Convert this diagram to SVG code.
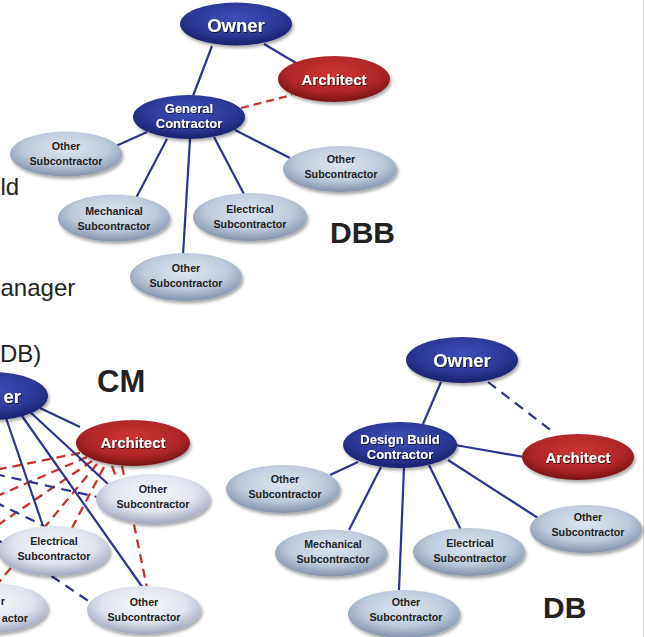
<svg xmlns="http://www.w3.org/2000/svg" width="645" height="637" viewBox="0 0 645 637">
<defs>
<radialGradient id="gBlue" cx="50%" cy="38%" r="62%">
<stop offset="0%" stop-color="#3d4fb8"/><stop offset="65%" stop-color="#2b3896"/><stop offset="100%" stop-color="#17206a"/>
</radialGradient>
<radialGradient id="gRed" cx="50%" cy="38%" r="62%">
<stop offset="0%" stop-color="#cc3530"/><stop offset="65%" stop-color="#b02729"/><stop offset="100%" stop-color="#761313"/>
</radialGradient>
<radialGradient id="gSub" cx="50%" cy="38%" r="62%">
<stop offset="0%" stop-color="#dde5f0"/><stop offset="60%" stop-color="#bfcbdd"/><stop offset="100%" stop-color="#8192ad"/>
</radialGradient>
<radialGradient id="gLight" cx="50%" cy="38%" r="62%">
<stop offset="0%" stop-color="#f6f7fb"/><stop offset="60%" stop-color="#e1e4ef"/><stop offset="100%" stop-color="#a0a6bf"/>
</radialGradient>
<filter id="sh" x="-20%" y="-20%" width="140%" height="150%">
<feDropShadow dx="1.5" dy="2.5" stdDeviation="1.5" flood-color="#000" flood-opacity="0.35"/>
</filter>
<filter id="ts" x="-10%" y="-30%" width="120%" height="160%">
<feDropShadow dx="0.8" dy="0.9" stdDeviation="0.6" flood-color="#000" flood-opacity="0.75"/>
</filter>
</defs>
<style>
.ln{stroke:#2b3490;stroke-width:2.2;fill:none}
.dr{stroke:#c8322b;stroke-width:2.3;fill:none;stroke-dasharray:9 6}
.db{stroke:#2b3490;stroke-width:2.2;fill:none;stroke-dasharray:10 7}
.nb{fill:url(#gBlue);filter:url(#sh)}
.nr{fill:url(#gRed);filter:url(#sh)}
.ns{fill:url(#gSub);filter:url(#sh)}
.nl{fill:url(#gLight);filter:url(#sh)}
text{font-family:"Liberation Sans",Arial,sans-serif}
.tw{font-weight:bold;fill:#fff;text-anchor:middle;filter:url(#ts)}
.o{font-size:18.5px}
.a{font-size:15px}
.c{font-size:13px}
.td{font-weight:bold;fill:#1e1e1e;font-size:10.7px;text-anchor:middle}
.big{font-weight:bold;fill:#222;font-size:30px}
.side{font-size:24px;fill:#222}
</style>
<rect width="645" height="637" fill="#fff"/>
<line x1="643.5" y1="0" x2="643.5" y2="637" stroke="#dadada" stroke-width="1"/>

<g id="connectors">
<!-- DBB -->
<line class="ln" x1="212" y1="46" x2="193" y2="96"/>
<line class="ln" x1="264" y1="44" x2="296" y2="63"/>
<line class="dr" x1="241" y1="108" x2="292" y2="95" style="stroke-dasharray:8 5"/>
<line class="ln" x1="147" y1="132" x2="116" y2="146"/>
<line class="ln" x1="167" y1="139" x2="136" y2="198"/>
<line class="ln" x1="190" y1="139" x2="183" y2="255"/>
<line class="ln" x1="214" y1="137" x2="245" y2="196"/>
<line class="ln" x1="235" y1="130" x2="290" y2="158"/>
<!-- CM -->
<line class="dr" x1="80" y1="453" x2="-5" y2="470"/>
<line class="dr" x1="87" y1="457" x2="-5" y2="497"/>
<line class="dr" x1="92" y1="461" x2="-5" y2="527"/>
<line class="dr" x1="97" y1="464" x2="-5" y2="587"/>
<line class="dr" x1="104" y1="467" x2="72" y2="528"/>
<line class="dr" x1="112" y1="466" x2="118" y2="482"/>
<line class="dr" x1="122" y1="466" x2="147" y2="588"/>
<line class="db" x1="-5" y1="474" x2="97" y2="497"/>
<line class="db" x1="-5" y1="502" x2="44" y2="526"/>
<line class="db" x1="-5" y1="538" x2="90" y2="602"/>
<line class="ln" x1="40" y1="408" x2="80" y2="427"/>
<line class="ln" x1="30" y1="412" x2="108" y2="484"/>
<line class="ln" x1="22" y1="416" x2="143" y2="588"/>
<line class="ln" x1="6" y1="418" x2="43" y2="526"/>
<!-- DB -->
<line class="ln" x1="441" y1="382" x2="423" y2="424"/>
<line class="db" x1="488" y1="382" x2="553" y2="432"/>
<line class="ln" x1="455" y1="445" x2="524" y2="457"/>
<line class="ln" x1="358" y1="462" x2="330" y2="475"/>
<line class="ln" x1="381" y1="467" x2="349" y2="530"/>
<line class="ln" x1="404" y1="467" x2="399" y2="590"/>
<line class="ln" x1="429" y1="465" x2="461" y2="530"/>
<line class="ln" x1="448" y1="460" x2="538" y2="518"/>
</g>

<!-- DBB nodes -->
<g id="dbb-owner"><ellipse class="nb" cx="236" cy="24" rx="56" ry="21.5"/><text class="tw o" x="236" y="32">Owner</text></g>
<g id="dbb-architect"><ellipse class="nr" cx="334" cy="79" rx="56" ry="23"/><text class="tw a" x="334" y="85">Architect</text></g>
<g id="dbb-gc"><ellipse class="nb" cx="189" cy="117" rx="56" ry="22"/><text class="tw c" x="189" y="113">General</text><text class="tw c" x="189" y="128">Contractor</text></g>
<g id="dbb-other1"><ellipse class="ns" cx="66" cy="154" rx="56" ry="22.5"/><text class="td" x="66" y="150">Other</text><text class="td" x="66" y="165">Subcontractor</text></g>
<g id="dbb-other2"><ellipse class="ns" cx="340" cy="169" rx="57" ry="23"/><text class="td" x="341" y="163">Other</text><text class="td" x="341" y="178">Subcontractor</text></g>
<g id="dbb-mech"><ellipse class="ns" cx="114" cy="218" rx="56" ry="23.5"/><text class="td" x="114" y="215">Mechanical</text><text class="td" x="114" y="230">Subcontractor</text></g>
<g id="dbb-elec"><ellipse class="ns" cx="250" cy="217" rx="57" ry="24"/><text class="td" x="250" y="213">Electrical</text><text class="td" x="250" y="228">Subcontractor</text></g>
<g id="dbb-other3"><ellipse class="ns" cx="186" cy="277" rx="56" ry="24"/><text class="td" x="186" y="272">Other</text><text class="td" x="186" y="287">Subcontractor</text></g>
<text class="big" x="330" y="243">DBB</text>

<!-- side text fragments -->
<text class="side" x="0.5" y="195">ld</text>
<text class="side" x="0.5" y="296">anager</text>
<text class="side" x="0" y="362">DB)</text>

<!-- CM nodes -->
<g id="cm-owner"><ellipse class="nb" cx="-8" cy="396" rx="56" ry="24"/><text class="tw o" x="21" y="403" style="text-anchor:end">er</text></g>
<g id="cm-architect"><ellipse class="nr" cx="133" cy="443" rx="57" ry="23"/><text class="tw a" x="133" y="448">Architect</text></g>
<g id="cm-other1"><ellipse class="nl" cx="153" cy="499" rx="57" ry="25"/><text class="td" x="153" y="493">Other</text><text class="td" x="153" y="508">Subcontractor</text></g>
<g id="cm-elec"><ellipse class="nl" cx="54" cy="551" rx="56" ry="25"/><text class="td" x="54" y="545">Electrical</text><text class="td" x="54" y="560">Subcontractor</text></g>
<g id="cm-other2"><ellipse class="nl" cx="144" cy="610" rx="57" ry="24"/><text class="td" x="144" y="606">Other</text><text class="td" x="144" y="621">Subcontractor</text></g>
<g id="cm-other3"><ellipse class="nl" cx="-8" cy="608" rx="56" ry="25"/><text class="td" x="5" y="605" style="text-anchor:end">r</text><text class="td" x="28" y="622" style="text-anchor:end">actor</text></g>
<text class="big" x="97" y="392" style="font-size:31px">CM</text>

<!-- DB nodes -->
<g id="db-owner"><ellipse class="nb" cx="462" cy="360" rx="56" ry="23"/><text class="tw o" x="462" y="367">Owner</text></g>
<g id="db-dbc"><ellipse class="nb" cx="400" cy="445" rx="57" ry="23"/><text class="tw c" x="400" y="444">Design Build</text><text class="tw c" x="400" y="459">Contractor</text></g>
<g id="db-architect"><ellipse class="nr" cx="578" cy="457" rx="56" ry="23"/><text class="tw a" x="578" y="463">Architect</text></g>
<g id="db-other1"><ellipse class="ns" cx="283" cy="489" rx="57" ry="24"/><text class="td" x="285" y="483">Other</text><text class="td" x="285" y="498">Subcontractor</text></g>
<g id="db-mech"><ellipse class="ns" cx="331" cy="553" rx="56" ry="23.5"/><text class="td" x="333" y="548">Mechanical</text><text class="td" x="333" y="563">Subcontractor</text></g>
<g id="db-elec"><ellipse class="ns" cx="469" cy="552" rx="56" ry="24"/><text class="td" x="470" y="547">Electrical</text><text class="td" x="470" y="562">Subcontractor</text></g>
<g id="db-other2"><ellipse class="ns" cx="586" cy="529" rx="56" ry="24"/><text class="td" x="588" y="521">Other</text><text class="td" x="588" y="536">Subcontractor</text></g>
<g id="db-other3"><ellipse class="ns" cx="404" cy="614" rx="56" ry="24"/><text class="td" x="406" y="606">Other</text><text class="td" x="406" y="621">Subcontractor</text></g>
<text class="big" x="543" y="618">DB</text>
</svg>
